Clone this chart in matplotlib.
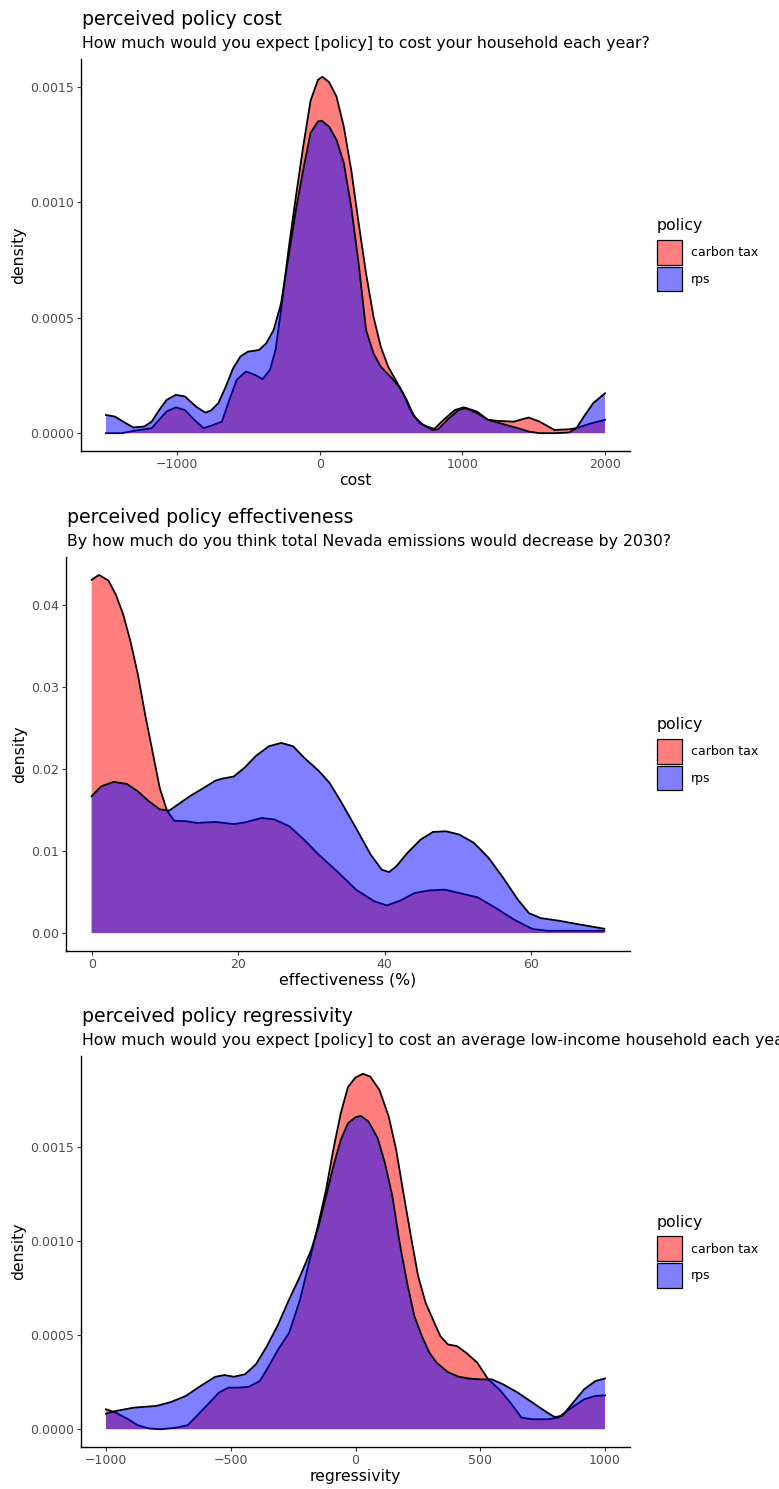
import matplotlib
matplotlib.use("Agg")
import matplotlib.pyplot as plt
from matplotlib.patches import Patch
from matplotlib.ticker import FixedLocator, FormatStrFormatter

plt.rcParams['font.family'] = ['DejaVu Sans']

# === DATA (density curves) ===
policies = ["carbon tax", "rps"]

# panel 1: perceived policy cost (density in units of 1e-4)
cost_ct_x = [-1500, -1386, -1308, -1231, -1179, -1127, -1075, -1010, -946, -881, -816, -764, -687, -635,
             -583, -518, -453, -402, -350, -311, -272, -220, -168, -117, -65, -13, 18, 65, 117, 168, 220,
             272, 324, 376, 427, 479, 531, 583, 635, 699, 764, 803, 868, 946, 1010, 1101, 1179, 1256,
             1360, 1464, 1541, 1645, 1749, 1800, 1904, 2000]
cost_ct_y = [0, 0, 0.10, 0.17, 0.22, 0.58, 0.94, 1.12, 1.00, 0.58, 0.22, 0.32, 0.50, 1.44,
             2.31, 2.67, 2.52, 2.34, 2.74, 3.60, 5.34, 7.93, 10.24, 12.4, 14.4, 15.3, 15.43, 15.2, 14.57, 13.27, 11.4,
             9.1, 6.92, 5.05, 3.75, 2.88, 2.31, 1.73, 1.00, 0.43, 0.26, 0.19, 0.58, 1.00, 1.12, 0.94, 0.58, 0.53,
             0.50, 0.68, 0.50, 0.14, 0.17, 0.22, 0.43, 0.58]
cost_rps_x = [-1500, -1438, -1360, -1308, -1231, -1179, -1127, -1075, -1010, -946, -868, -803, -764, -712,
              -661, -609, -557, -505, -427, -376, -324, -272, -220, -168, -117, -65, -13, 13, 65, 117, 168,
              220, 272, 324, 376, 427, 505, 557, 609, 661, 725, 790, 829, 894, 972, 1023, 1101, 1179,
              1282, 1386, 1464, 1541, 1645, 1749, 1800, 1852, 1917, 2000]
cost_rps_y = [0.79, 0.72, 0.43, 0.25, 0.29, 0.50, 1.00, 1.44, 1.66, 1.59, 1.15, 0.89, 0.98, 1.30,
              2.00, 2.80, 3.32, 3.53, 3.60, 3.89, 4.47, 5.62, 7.64, 9.66, 11.4, 13.0, 13.5, 13.53, 13.27, 12.7, 11.7,
              9.8, 7.35, 4.47, 3.46, 2.88, 2.38, 2.00, 1.44, 0.72, 0.36, 0.14, 0.17, 0.58, 1.00, 1.08, 0.87, 0.58,
              0.40, 0.22, 0.07, 0.0, 0.0, 0.03, 0.22, 0.72, 1.30, 1.73]

# panel 2: perceived policy effectiveness (density in units of 1e-2)
eff_ct_x = [0, 1.0, 2.3, 3.3, 4.3, 5.3, 6.3, 7.3, 8.3, 9.3, 10.3, 11.3, 12.9, 14.4, 16.9, 19.4, 20.9, 23.2,
            25.0, 27.0, 29.0, 31.0, 33.5, 36.1, 38.6, 40.3, 42.1, 44.1, 46.1, 48.2, 50.2, 52.7, 55.2, 57.7,
            60.2, 62.3, 66.3, 70.0]
eff_ct_y = [4.31, 4.37, 4.30, 4.13, 3.89, 3.56, 3.16, 2.67, 2.22, 1.77, 1.49, 1.37, 1.365, 1.344, 1.356, 1.33,
            1.35, 1.405, 1.385, 1.303, 1.14, 0.957, 0.754, 0.53, 0.387, 0.338, 0.395, 0.489, 0.521, 0.53, 0.489,
            0.436, 0.305, 0.163, 0.049, 0.028, 0.028, 0.028]
eff_rps_x = [0, 1.3, 3.0, 4.8, 6.3, 7.8, 9.3, 10.6, 11.8, 13.4, 14.9, 16.9, 17.9, 19.4, 20.9, 22.4, 24.2, 25.9,
             27.5, 29.0, 31.0, 32.5, 34.0, 36.1, 38.1, 39.6, 40.6, 41.6, 43.1, 44.9, 46.6, 48.4, 50.2, 52.2,
             54.2, 56.2, 58.2, 59.7, 61.3, 63.8, 66.3, 70.0]
eff_rps_y = [1.67, 1.79, 1.845, 1.82, 1.73, 1.61, 1.51, 1.495, 1.57, 1.67, 1.75, 1.86, 1.886, 1.91, 2.02, 2.16,
             2.28, 2.32, 2.28, 2.14, 1.98, 1.83, 1.61, 1.28, 0.957, 0.774, 0.745, 0.815, 0.978, 1.14, 1.234,
             1.242, 1.202, 1.10, 0.917, 0.672, 0.407, 0.244, 0.183, 0.151, 0.11, 0.053]

# panel 3: perceived policy regressivity (density in units of 1e-4)
reg_ct_x = [-1000, -961, -916, -872, -827, -783, -724, -673, -636, -591, -547, -510, -473, -429, -384, -355,
            -310, -266, -222, -177, -148, -118, -89, -59, -30, 0, 30, 59, 96, 133, 163, 192, 222, 251, 281,
            310, 340, 370, 407, 443, 488, 532, 576, 621, 665, 710, 769, 813, 857, 916, 961, 1000]
reg_ct_y = [1.06, 0.88, 0.57, 0.21, 0.04, 0, 0.07, 0.21, 0.71, 1.33, 1.95, 2.21, 2.21, 2.25, 2.56, 3.18,
            4.24, 5.13, 6.90, 9.37, 10.96, 12.73, 14.86, 16.8, 18.2, 18.7, 18.9, 18.75, 18.04, 16.63, 14.86, 12.56,
            10.26, 8.14, 6.72, 5.84, 4.95, 4.51, 4.42, 4.07, 3.54, 2.65, 2.12, 1.41, 0.62, 0.53, 0.53, 0.62,
            1.06, 1.59, 1.77, 1.80]
reg_rps_x = [-1000, -961, -887, -798, -739, -680, -621, -562, -525, -488, -443, -399, -355, -310, -266, -222,
             -177, -148, -118, -89, -59, -30, 0, 22, 52, 89, 118, 148, 177, 207, 236, 266, 296, 325, 370,
             414, 458, 503, 547, 591, 650, 710, 769, 798, 828, 872, 916, 961, 1000]
reg_rps_y = [0.83, 0.97, 1.15, 1.24, 1.45, 1.77, 2.30, 2.79, 2.88, 2.79, 2.92, 3.45, 4.42, 5.57, 6.90, 8.14,
             9.55, 10.79, 12.38, 13.97, 15.39, 16.27, 16.59, 16.66, 16.36, 15.48, 14.15, 12.38, 9.90, 7.78, 6.01,
             4.95, 4.07, 3.54, 3.04, 2.79, 2.69, 2.65, 2.65, 2.39, 1.95, 1.41, 0.88, 0.65, 0.71, 1.41, 2.12,
             2.56, 2.70]

titles = ["perceived policy cost", "perceived policy effectiveness", "perceived policy regressivity"]
subtitles = ["How much would you expect [policy] to cost your household each year?",
             "By how much do you think total Nevada emissions would decrease by 2030?",
             "How much would you expect [policy] to cost an average low-income household each year?"]
xlabels = ["cost", "effectiveness (%)", "regressivity"]
xticks = [[-1000, 0, 1000, 2000], [0, 20, 40, 60], [-1000, -500, 0, 500, 1000]]
yticks = [[0, 0.0005, 0.0010, 0.0015], [0, 0.01, 0.02, 0.03, 0.04], [0, 0.0005, 0.0010, 0.0015]]
yfmt = ["%.4f", "%.2f", "%.4f"]
scales = [1e-4, 1e-2, 1e-4]

panels = [
    (cost_ct_x, cost_ct_y, cost_rps_x, cost_rps_y),
    (eff_ct_x, eff_ct_y, eff_rps_x, eff_rps_y),
    (reg_ct_x, reg_ct_y, reg_rps_x, reg_rps_y),
]

# === LAYOUT (pixels of the 779x1489 canvas: left, right, top, bottom) ===
W, H = 779, 1489
boxes = [(81, 630, 59, 451), (66, 630, 557, 951), (81, 630, 1056, 1447)]

fills = [(1, 0, 0, 0.5), (0, 0, 1, 0.5)]
px = 0.72  # points per pixel at dpi 100
fs_tick, fs_lab, fs_title = 9.0, 11.3, 13.6

fig = plt.figure(figsize=(W / 100, H / 100), dpi=100)

for i, (cx, cy, rx, ry) in enumerate(panels):
    l, r, t, b = boxes[i]
    ax = fig.add_axes([l / W, 1 - b / H, (r - l) / W, (b - t) / H])
    s = scales[i]
    cy = [v * s for v in cy]
    ry = [v * s for v in ry]

    ax.fill_between(cx, 0, cy, facecolor=fills[0], linewidth=0, zorder=2)
    ax.plot(cx, cy, color="black", lw=1.3, zorder=2.1)
    ax.fill_between(rx, 0, ry, facecolor=fills[1], linewidth=0, zorder=2.2)
    ax.plot(rx, ry, color="black", lw=1.3, zorder=2.3)

    xmin, xmax = min(cx + rx), max(cx + rx)
    ymax = max(cy + ry)
    dx = 0.05 * (xmax - xmin)
    ax.set_xlim(xmin - dx, xmax + dx)
    ax.set_ylim(-0.05 * ymax, 1.05 * ymax)

    ax.xaxis.set_major_locator(FixedLocator(xticks[i]))
    ax.yaxis.set_major_locator(FixedLocator(yticks[i]))
    ax.yaxis.set_major_formatter(FormatStrFormatter(yfmt[i]))

    for sp in ["top", "right"]:
        ax.spines[sp].set_visible(False)
    for sp in ["left", "bottom"]:
        ax.spines[sp].set_linewidth(1.0)
        ax.spines[sp].set_color("black")
    ax.tick_params(length=2.7, width=0.8, color="#333333", labelsize=fs_tick,
                   labelcolor="#4D4D4D", pad=2.0)

    ax.set_xlabel(xlabels[i], fontsize=fs_lab, labelpad=1.5)
    ax.set_ylabel("density", fontsize=fs_lab, labelpad=3)

    ax.annotate(titles[i], xy=(0, 1), xycoords="axes fraction", xytext=(1, 34 * px),
                textcoords="offset points", fontsize=fs_title, va="baseline", ha="left")
    ax.annotate(subtitles[i], xy=(0, 1), xycoords="axes fraction", xytext=(1, 11 * px),
                textcoords="offset points", fontsize=fs_lab, va="baseline", ha="left")

    handles = [Patch(facecolor=fills[k], edgecolor="black", linewidth=0.9, label=policies[k])
               for k in range(2)]
    yc = (t + b) / 2
    leg = ax.legend(handles=handles, title="policy", loc="upper left",
                    bbox_to_anchor=(657 / W, 1 - (yc - 37) / H), bbox_transform=fig.transFigure,
                    frameon=False, fontsize=fs_tick, title_fontsize=fs_lab, alignment="left",
                    handlelength=2.0, handleheight=2.65, handletextpad=0.75, labelspacing=0.16,
                    borderpad=0, borderaxespad=0)
    leg._legend_box.sep = 5

fig.savefig("out.png", dpi=100)
